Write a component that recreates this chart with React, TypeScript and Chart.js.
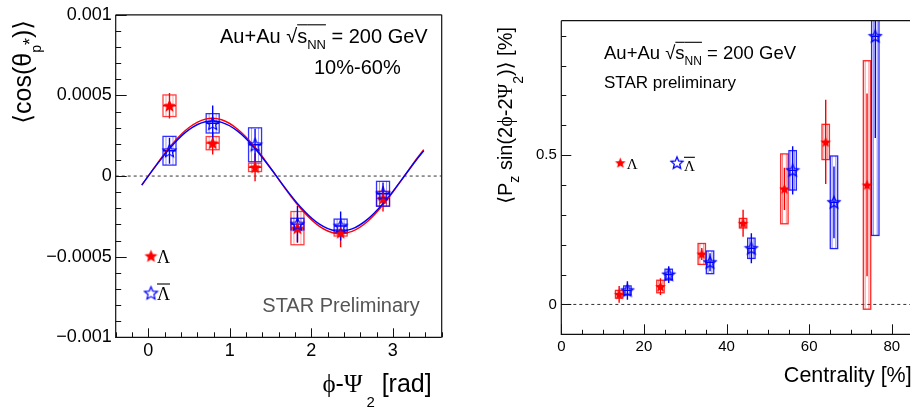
import { useEffect, useRef } from 'react';
import { Chart, registerables } from 'chart.js';

Chart.register(...registerables);

const SANS = "'Liberation Sans', Arial, Helvetica, 'DejaVu Sans', sans-serif";
const SERIF = "'Liberation Serif', 'DejaVu Serif', serif";

// ---------------- Left panel: <cos(theta_p*)> vs phi - Psi2 ----------------
const phiBins = [0.26, 0.79, 1.31, 1.83, 2.36, 2.88];
const lamCos = [0.000436, 0.000204, 0.000054, -0.000323, -0.000352, -0.00014];
const lamCosStat = [0.000079, 0.00007, 0.000087, 0.00009, 0.00009, 0.00008];
const lamCosSys = [0.000067, 0.000041, 0.000026, 0.000103, 0.00002, 0.000046];
const alamCos = [0.000157, 0.000327, 0.000194, -0.000298, -0.00031, -0.00011];
const alamCosStat = [0.00008, 0.00011, 0.0001, 0.000113, 0.00009, 0.00007];
const alamCosSys = [0.000089, 0.00006, 0.000105, 0.000036, 0.000043, 0.000077];

// fitted curves
const fitX = [-0.08, 0.1, 0.3, 0.5, 0.7, 0.9, 1.1, 1.3, 1.5, 1.7, 1.9, 2.1, 2.3, 2.5, 2.7, 2.9, 3.1, 3.3, 3.38];
const fitLam = [-0.000057, 0.0000711, 0.000202, 0.000301, 0.000353, 0.000349, 0.000289, 0.000185, 0.0000505, -0.0000915, -0.000219, -0.000312, -0.000356, -0.000343, -0.000277, -0.000166, -0.0000298, 0.000112, 0.000164];
const fitAlam = [-0.0000545, 0.000068, 0.000193, 0.000288, 0.000337, 0.000333, 0.000277, 0.000176, 0.0000483, -0.0000874, -0.000209, -0.000298, -0.00034, -0.000328, -0.000264, -0.000159, -0.0000284, 0.000107, 0.000157];

const leftXTicks = [0, 1, 2, 3];
const leftXTickLabels = ['0', '1', '2', '3'];
const leftYTicks = [-0.001, -0.0005, 0, 0.0005, 0.001];
const leftYTickLabels = ['\u22120.001', '\u22120.0005', '0', '0.0005', '0.001'];

// ---------------- Right panel: <Pz sin(2phi-2Psi2)> vs centrality ----------------
const centLam = [14, 24, 34, 44, 54, 64, 74];
const centAlam = [16, 26, 36, 46, 56, 66, 76];
const lamPz = [0.034, 0.06, 0.169, 0.272, 0.387, 0.544, 0.4];
const lamPzStat = [0.028, 0.028, 0.02, 0.045, 0.071, 0.141, 0.306];
const lamPzSys = [0.013, 0.021, 0.035, 0.016, 0.117, 0.059, 0.416];
const alamPz = [0.047, 0.1, 0.141, 0.188, 0.449, 0.342, 0.898];
const alamPzStat = [0.031, 0.028, 0.03, 0.05, 0.081, 0.12, 0.341];
const alamPzSys = [0.015, 0.018, 0.038, 0.034, 0.066, 0.155, 0.667];

const rightXTicks = [0, 20, 40, 60, 80];
const rightXTickLabels = ['0', '20', '40', '60', '80'];
const rightYTicks = [0, 0.5];
const rightYTickLabels = ['0', '0.5'];

// ---------------- helpers ----------------
type Seg = { t: string; s: number; f?: string; dy?: number; dx?: number; ol?: number; c?: string };

function rich(ctx: CanvasRenderingContext2D, segs: Seg[], x: number, y: number, align: 'left' | 'right', rot = false, color = '#000') {
  ctx.save();
  ctx.translate(x, y);
  if (rot) ctx.rotate(-Math.PI / 2);
  ctx.textBaseline = 'alphabetic';
  ctx.textAlign = 'left';
  const widths = segs.map((g) => {
    ctx.font = `${g.s}px ${g.f ?? SANS}`;
    return ctx.measureText(g.t).width + (g.dx ?? 0);
  });
  const total = widths.reduce((a, b) => a + b, 0);
  let cx = align === 'right' ? -total : 0;
  segs.forEach((g, i) => {
    ctx.font = `${g.s}px ${g.f ?? SANS}`;
    ctx.fillStyle = g.c ?? color;
    ctx.fillText(g.t, cx, g.dy ?? 0);
    if (g.ol !== undefined) {
      ctx.strokeStyle = g.c ?? color;
      ctx.lineWidth = 1.1;
      ctx.beginPath();
      ctx.moveTo(cx, g.ol);
      ctx.lineTo(cx + widths[i], g.ol);
      ctx.stroke();
    }
    cx += widths[i];
  });
  ctx.restore();
}

function starCanvas(R: number, fill: string | null, stroke: string | null, lw: number) {
  const size = Math.ceil(2 * R + lw + 2);
  const c = document.createElement('canvas');
  c.width = size;
  c.height = size;
  const g = c.getContext('2d')!;
  const cx = size / 2;
  const cy = size / 2 + R * 0.08;
  g.beginPath();
  for (let k = 0; k < 10; k++) {
    const r = k % 2 === 0 ? R : R * 0.45;
    const ang = -Math.PI / 2 + (k * Math.PI) / 5;
    const px = cx + r * Math.cos(ang);
    const py = cy + r * Math.sin(ang);
    if (k === 0) g.moveTo(px, py);
    else g.lineTo(px, py);
  }
  g.closePath();
  if (fill) {
    g.fillStyle = fill;
    g.fill();
  }
  if (stroke) {
    g.strokeStyle = stroke;
    g.lineWidth = lw;
    g.lineJoin = 'miter';
    g.stroke();
  }
  return c;
}

type Series = { x: number[]; y: number[]; stat: number[]; sys: number[]; color: string; box: string; inner: string };
type Panel = {
  series: Series[];
  boxHalf: number;
  inset: number;
  xMinor: number; xMajor: number; xMinLen: number; xMajLen: number;
  yMinor: number; yMajor: number; yMinLen: number; yMajLen: number;
  rightBorder: boolean;
  texts: (ctx: CanvasRenderingContext2D, stars: { red: HTMLCanvasElement; blue: HTMLCanvasElement }) => void;
  stars: { red: HTMLCanvasElement; blue: HTMLCanvasElement };
};

function panelPlugin(p: Panel) {
  return {
    id: 'panelDecor',
    beforeDatasetsDraw(chart: any) {
      const { ctx, chartArea: a } = chart;
      const x = chart.scales.x;
      const y = chart.scales.y;
      ctx.save();
      ctx.beginPath();
      ctx.rect(a.left, a.top, a.right - a.left, a.bottom - a.top);
      ctx.clip();
      const y0 = y.getPixelForValue(0);
      ctx.setLineDash([3, 3]);
      ctx.strokeStyle = '#333';
      ctx.lineWidth = 1;
      ctx.beginPath();
      ctx.moveTo(a.left, y0);
      ctx.lineTo(a.right, y0);
      ctx.stroke();
      ctx.setLineDash([]);
      for (const s of p.series) {
        s.x.forEach((xv, i) => {
          const px = x.getPixelForValue(xv);
          const bt = y.getPixelForValue(s.y[i] + s.sys[i]);
          const bb = y.getPixelForValue(s.y[i] - s.sys[i]);
          const h = p.boxHalf;
          ctx.strokeStyle = s.box;
          ctx.lineWidth = 1.3;
          ctx.strokeRect(px - h, bt, 2 * h, bb - bt);
          ctx.strokeStyle = s.inner;
          ctx.lineWidth = 1;
          ctx.beginPath();
          ctx.moveTo(px - h + p.inset, bt);
          ctx.lineTo(px - h + p.inset, bb);
          ctx.moveTo(px + h - p.inset, bt);
          ctx.lineTo(px + h - p.inset, bb);
          ctx.stroke();
          const st = y.getPixelForValue(s.y[i] + s.stat[i]);
          const sb = y.getPixelForValue(s.y[i] - s.stat[i]);
          const py = y.getPixelForValue(s.y[i]);
          ctx.strokeStyle = s.color;
          ctx.lineWidth = 1.4;
          ctx.beginPath();
          ctx.moveTo(px, st);
          ctx.lineTo(px, sb);
          ctx.moveTo(px - h, py);
          ctx.lineTo(px + h, py);
          ctx.stroke();
        });
      }
      ctx.restore();
    },
    afterDraw(chart: any) {
      const { ctx, chartArea: a } = chart;
      const x = chart.scales.x;
      const y = chart.scales.y;
      ctx.save();
      ctx.strokeStyle = '#111';
      ctx.lineWidth = 1.2;
      ctx.beginPath();
      ctx.moveTo(a.left, a.top);
      ctx.lineTo(a.left, a.bottom);
      ctx.lineTo(a.right, a.bottom);
      ctx.moveTo(a.left, a.top);
      ctx.lineTo(a.right, a.top);
      if (p.rightBorder) {
        ctx.moveTo(a.right, a.top);
        ctx.lineTo(a.right, a.bottom);
      }
      ctx.stroke();
      ctx.lineWidth = 1;
      ctx.beginPath();
      const nx = Math.floor((x.max - x.min) / p.xMinor + 1e-6);
      for (let k = 0; k <= nx; k++) {
        const v = x.min + k * p.xMinor;
        const r = v / p.xMajor;
        const major = Math.abs(r - Math.round(r)) < 1e-6;
        const px = Math.round(x.getPixelForValue(v)) + 0.5;
        ctx.moveTo(px, a.bottom);
        ctx.lineTo(px, a.bottom - (major ? p.xMajLen : p.xMinLen));
      }
      const ny = Math.floor((y.max - y.min) / p.yMinor + 1e-6);
      for (let k = 0; k <= ny; k++) {
        const v = y.min + k * p.yMinor;
        const r = v / p.yMajor;
        const major = Math.abs(r - Math.round(r)) < 1e-6;
        const py = Math.round(y.getPixelForValue(v)) + 0.5;
        ctx.moveTo(a.left, py);
        ctx.lineTo(a.left + (major ? p.yMajLen : p.yMinLen), py);
      }
      ctx.stroke();
      ctx.restore();
      p.texts(ctx, p.stars);
    },
  };
}

function fixedTicks(values: number[]) {
  return (scale: any) => {
    scale.ticks = values.map((v) => ({ value: v }));
  };
}

function makeConfig(opts: {
  datasets: any[];
  padding: any;
  xMin: number; xMax: number; yMin: number; yMax: number;
  xTicks: number[]; xLabels: string[]; yTicks: number[]; yLabels: string[];
  yWidth: number; xHeight: number; fontSize: number; xPad: number; yPad: number;
  plugin: any;
}) {
  return {
    type: 'scatter' as const,
    data: { datasets: opts.datasets },
    options: {
      animation: false as const,
      responsive: false,
      events: [],
      layout: { padding: opts.padding },
      plugins: { legend: { display: false }, tooltip: { enabled: false }, title: { display: false } },
      scales: {
        x: {
          type: 'linear' as const,
          min: opts.xMin,
          max: opts.xMax,
          afterBuildTicks: fixedTicks(opts.xTicks),
          afterFit: (s: any) => { s.height = opts.xHeight; },
          grid: { display: false, drawTicks: false },
          border: { display: false },
          ticks: {
            color: '#000',
            padding: opts.xPad,
            autoSkip: false,
            maxRotation: 0,
            font: { family: SANS, size: opts.fontSize },
            callback: (_v: any, i: number) => opts.xLabels[i],
          },
        },
        y: {
          type: 'linear' as const,
          min: opts.yMin,
          max: opts.yMax,
          afterBuildTicks: fixedTicks(opts.yTicks),
          afterFit: (s: any) => { s.width = opts.yWidth; },
          grid: { display: false, drawTicks: false },
          border: { display: false },
          ticks: {
            color: '#000',
            padding: opts.yPad,
            autoSkip: false,
            font: { family: SANS, size: opts.fontSize },
            callback: (_v: any, i: number) => opts.yLabels[i],
          },
        },
      },
    },
    plugins: [opts.plugin],
  };
}

function leftTexts(ctx: CanvasRenderingContext2D, stars: { red: HTMLCanvasElement; blue: HTMLCanvasElement }) {
  rich(ctx, [
    { t: 'Au+Au ', s: 20 },
    { t: '\u221A', s: 20 },
    { t: 's', s: 20, ol: -18.5 },
    { t: 'NN', s: 13, dy: 6, ol: -18.5 },
    { t: ' = 200 GeV', s: 20 },
  ], 220, 43.3, 'left');
  rich(ctx, [{ t: '10%-60%', s: 20 }], 314, 74, 'left');
  rich(ctx, [{ t: 'STAR Preliminary', s: 20 }], 262.3, 311.5, 'left', false, '#555');
  ctx.drawImage(stars.red, 151 - stars.red.width / 2, 256 - stars.red.height / 2);
  rich(ctx, [{ t: '\u039B', s: 18, f: SERIF }], 157, 263.3, 'left');
  ctx.drawImage(stars.blue, 151 - stars.blue.width / 2, 293 - stars.blue.height / 2);
  rich(ctx, [{ t: '\u039B', s: 18, f: SERIF, ol: -16 }], 157, 300, 'left');
  // axis titles
  rich(ctx, [
    { t: '\u27E8cos(', s: 25 },
    { t: '\u03B8', s: 25 },
    { t: 'p', s: 14, dy: 10 },
    { t: '*', s: 18, dy: 5 },
    { t: ')\u27E9', s: 25 },
  ], 31, 20, 'right', true);
  rich(ctx, [
    { t: '\u03D5', s: 25, f: SERIF },
    { t: '-', s: 25 },
    { t: '\u03A8', s: 25, f: SERIF, dx: 4 },
    { t: '2', s: 15, dy: 15 },
    { t: ' [rad]', s: 25 },
  ], 431.7, 391.7, 'right');
}

function rightTexts(ctx: CanvasRenderingContext2D, stars: { red: HTMLCanvasElement; blue: HTMLCanvasElement }) {
  rich(ctx, [
    { t: 'Au+Au ', s: 18.5 },
    { t: '\u221A', s: 18.5 },
    { t: 's', s: 18.5, ol: -17 },
    { t: 'NN', s: 12, dy: 5.5, ol: -17 },
    { t: ' = 200 GeV', s: 18.5 },
  ], 144, 59.3, 'left');
  rich(ctx, [{ t: 'STAR preliminary', s: 17 }], 144, 87.5, 'left');
  ctx.drawImage(stars.red, 160.3 - stars.red.width / 2, 162.7 - stars.red.height / 2);
  rich(ctx, [{ t: '\u039B', s: 15, f: SERIF }], 166.7, 169, 'left');
  ctx.drawImage(stars.blue, 217 - stars.blue.width / 2, 162.7 - stars.blue.height / 2);
  rich(ctx, [{ t: '\u039B', s: 15, f: SERIF, ol: -13.2 }], 224, 170.5, 'left');
  rich(ctx, [
    { t: '\u27E8P', s: 20 },
    { t: 'z', s: 14, dy: 7 },
    { t: ' sin(2', s: 20 },
    { t: '\u03D5', s: 20, f: SERIF },
    { t: '-2', s: 20 },
    { t: '\u03A8', s: 20, f: SERIF },
    { t: '2', s: 14, dy: 11 },
    { t: ')\u27E9 [%]', s: 20 },
  ], 52, 27, 'right', true);
  rich(ctx, [{ t: 'Centrality [%]', s: 21.5 }], 451.7, 381.7, 'right');
}

export default function App() {
  const leftRef = useRef<HTMLCanvasElement>(null);
  const rightRef = useRef<HTMLCanvasElement>(null);

  useEffect(() => {
    Chart.defaults.font.family = SANS;
    const redL = starCanvas(6.8, '#ff0000', null, 1);
    const blueL = starCanvas(6.8, null, '#0000ff', 1.2);
    const redR = starCanvas(5.6, '#ff0000', null, 1);
    const blueR = starCanvas(6.3, null, '#0000ff', 1.3);

    const leftPanel: Panel = {
      series: [
        { x: phiBins, y: lamCos, stat: lamCosStat, sys: lamCosSys, color: '#ff0000', box: 'rgba(255,0,0,0.75)', inner: 'rgba(255,0,0,0.35)' },
        { x: phiBins, y: alamCos, stat: alamCosStat, sys: alamCosSys, color: '#0000ff', box: 'rgba(0,0,255,0.8)', inner: 'rgba(0,0,255,0.4)' },
      ],
      boxHalf: 6.5, inset: 3,
      xMinor: 0.2, xMajor: 1, xMinLen: 5, xMajLen: 9,
      yMinor: 0.0001, yMajor: 0.0005, yMinLen: 5.5, yMajLen: 11,
      rightBorder: true,
      texts: leftTexts,
      stars: { red: redL, blue: blueL },
    };
    const rightPanel: Panel = {
      series: [
        { x: centLam, y: lamPz, stat: lamPzStat, sys: lamPzSys, color: '#ff0000', box: 'rgba(255,0,0,0.85)', inner: 'rgba(255,0,0,0.45)' },
        { x: centAlam, y: alamPz, stat: alamPzStat, sys: alamPzSys, color: '#0000ff', box: 'rgba(0,0,255,0.85)', inner: 'rgba(0,0,255,0.45)' },
      ],
      boxHalf: 3.7, inset: 1.8,
      xMinor: 5, xMajor: 20, xMinLen: 4.5, xMajLen: 10,
      yMinor: 0.1, yMajor: 0.5, yMinLen: 5, yMajLen: 10,
      rightBorder: false,
      texts: rightTexts,
      stars: { red: redR, blue: blueR },
    };

    const leftCfg = makeConfig({
      datasets: [
        { type: 'line', label: 'fit \u039B', data: fitX.map((x, i) => ({ x, y: fitLam[i] })), borderColor: '#ff0000', borderWidth: 1.4, pointRadius: 0, tension: 0.4, fill: false, order: 3 },
        { type: 'line', label: 'fit anti-\u039B', data: fitX.map((x, i) => ({ x, y: fitAlam[i] })), borderColor: '#0000ff', borderWidth: 1.4, pointRadius: 0, tension: 0.4, fill: false, order: 2 },
        { label: '\u039B', data: phiBins.map((x, i) => ({ x, y: lamCos[i] })), pointStyle: redL, pointRadius: 6, order: 1 },
        { label: 'anti-\u039B', data: phiBins.map((x, i) => ({ x, y: alamCos[i] })), pointStyle: blueL, pointRadius: 6, order: 0 },
      ],
      padding: { left: 0, right: 18.3, top: 12.7, bottom: 0 },
      xMin: -0.4, xMax: 3.6, yMin: -0.001, yMax: 0.001,
      xTicks: leftXTicks, xLabels: leftXTickLabels, yTicks: leftYTicks, yLabels: leftYTickLabels,
      yWidth: 115.7, xHeight: 70.7, fontSize: 18, xPad: 3, yPad: 4,
      plugin: panelPlugin(leftPanel),
    });
    const rightCfg = makeConfig({
      datasets: [
        { label: '\u039B', data: centLam.map((x, i) => ({ x, y: lamPz[i] })), pointStyle: redR, pointRadius: 6, order: 1 },
        { label: 'anti-\u039B', data: centAlam.map((x, i) => ({ x, y: alamPz[i] })), pointStyle: blueR, pointRadius: 6, order: 0 },
      ],
      padding: { left: 0, right: 0, top: 20.7, bottom: 0 },
      xMin: 0, xMax: 84.4, yMin: -0.1, yMax: 0.95,
      xTicks: rightXTicks, xLabels: rightXTickLabels, yTicks: rightYTicks, yLabels: rightYTickLabels,
      yWidth: 101.3, xHeight: 73.7, fontSize: 15, xPad: 4, yPad: 4.5,
      plugin: panelPlugin(rightPanel),
    });

    const c1 = new Chart(leftRef.current!, leftCfg as any);
    const c2 = new Chart(rightRef.current!, rightCfg as any);
    return () => {
      c1.destroy();
      c2.destroy();
    };
  }, []);

  return (
    <div style={{ position: 'absolute', left: 0, top: 0, width: 917, height: 408, background: '#fff', overflow: 'hidden' }}>
      <canvas ref={leftRef} width={460} height={408} style={{ position: 'absolute', left: 0, top: 0 }} />
      <canvas ref={rightRef} width={457} height={408} style={{ position: 'absolute', left: 460, top: 0 }} />
    </div>
  );
}
